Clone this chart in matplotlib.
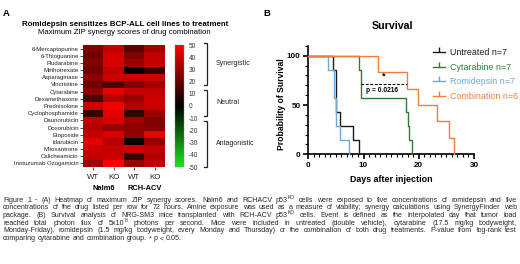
import matplotlib
matplotlib.use("Agg")
import matplotlib.pyplot as plt
import numpy as np
from matplotlib.colors import LinearSegmentedColormap
from matplotlib.lines import Line2D
from matplotlib.ticker import MultipleLocator
from matplotlib.transforms import blended_transform_factory

plt.rcParams['font.family'] = ['Liberation Sans', 'DejaVu Sans']
plt.rcParams['axes.unicode_minus'] = False

# ---------------- data ----------------
drugs = ["6-Mercaptopurine", "6-Thioguanine", "Fludarabine", "Methotrexate",
         "Asparaginase", "Vincristine", "Cytarabine", "Dexamethasone",
         "Prednisolone", "Cyclophosphamide", "Daunorubicin", "Doxorubicin",
         "Etoposide", "Idarubicin", "Mitoxantrone", "Calicheamicin",
         "Inotuzumab Ozogamicin"]
col_labels = ["WT", "KO", "WT", "KO"]
cell_lines = ["Nalm6", "RCH-ACV"]
nalm6_wt = [25, 22, 25, 22, 28, 22, 28, 15, 40, 12, 38, 35, 38, 45, 40, 38, 32]
nalm6_ko = [38, 42, 42, 38, 40, 15, 45, 35, 48, 45, 42, 30, 42, 35, 38, 40, 52]
rch_wt = [18, 25, 30, 0, 40, 25, 38, 30, 35, 10, 32, 28, 28, 2, 40, 12, 30]
rch_ko = [32, 38, 38, 10, 40, 32, 38, 40, 40, 30, 25, 25, 45, 28, 38, 35, 38]
cbar_ticks = [50, 40, 30, 20, 10, 0, -10, -20, -30, -40, -50]
categories_zip = ["Synergistic", "Neutral", "Antagonistic"]
category_ranges = [(52, 17), (13, -8), (-12, -50)]

groups = ["Untreated n=7", "Cytarabine n=7", "Romidepsin n=7", "Combination n=6"]
group_n = [7, 7, 7, 6]
untreated_events = [4.5, 5.0, 5.0, 5.0, 5.75, 8.15, 9.2]
cytarabine_events = [9.2, 9.55, 9.55, 17.7, 18.0, 18.3, 18.7]
romidepsin_events = [3.6, 4.6, 4.6, 5.0, 5.0, 5.7, 7.4]
combination_events = [12.7, 17.9, 19.9, 23.3, 25.4, 26.4]
group_colors = ["#1a1a1a", "#2e7b32", "#6fa8dc", "#f47c3c"]
p_value_text = "p = 0.0216"
p_line_x = [9.6, 17.8]
p_line_y = 71.4

# "^{...}" marks a superscript inside a word
caption_lines = [
    "Figure 1 - (A) Heatmap of maximum ZIP synergy scores. Nalm6 and RCHACV p53^{KO} cells were exposed to five concentrations of romidepsin and five",
    "concentrations of the drug listed per row for 72 hours. Amine exposure was used as a measure of viability; synergy calculations using SynergyFinder web",
    "package. (B) Survival analysis of NRG-SM3 mice transplanted with RCH-ACV p53^{KO} cells. Event is defined as the interpolated day that tumor load",
    "reached total photon flux of 5x10^{8} photons per second. Mice were included in untreated (double vehicle), cytarabine (17.5 mg/kg bodyweight,",
    "Monday-Friday), romidepsin (1.5 mg/kg bodyweight, every Monday and Thursday) or the combination of both drug treatments. P-value from log-rank test",
    "comparing cytarabine and combination group. * p < 0.05.",
]

# ---------------- figure ----------------
W, H = 520, 264
fig = plt.figure(figsize=(W / 100, H / 100), dpi=100)


def fx(px):
    return px / W


def fy(py):
    return 1 - py / H


# Panel letters
fig.text(fx(3), fy(13), "A", fontsize=6.8, fontweight="bold", va="center")
fig.text(fx(263), fy(13), "B", fontsize=6.8, fontweight="bold", va="center")

# ---- Panel A heatmap ----
fig.text(fx(125), fy(24), "Romidepsin sensitizes BCP-ALL cell lines to treatment",
         fontsize=5.7, fontweight="bold", ha="center", va="center")
fig.text(fx(124), fy(33), "Maximum ZIP synergy scores of drug combination",
         fontsize=5.55, ha="center", va="center")

cmap = LinearSegmentedColormap.from_list(
    "gkr", [(0.0, (0.1, 0.9, 0.1)), (0.5, (0.0, 0.0, 0.0)), (1.0, (1.0, 0.0, 0.0))])
data = np.array([nalm6_wt, nalm6_ko, rch_wt, rch_ko]).T

axh = fig.add_axes([fx(83), fy(167), fx(165) - fx(83), fy(45) - fy(167)])
im = axh.imshow(data, cmap=cmap, vmin=-50, vmax=50, aspect="auto", interpolation="nearest")
axh.set_yticks(range(len(drugs)))
axh.set_yticklabels(drugs, fontsize=4.35, color="#222222")
axh.set_xticks(range(4))
axh.set_xticklabels(col_labels, fontsize=5.7, color="#222222")
axh.tick_params(axis="y", length=2, width=0.5, pad=1)
axh.tick_params(axis="x", length=2, width=0.5, pad=3)
for s in axh.spines.values():
    s.set_visible(False)
for i, name in enumerate(cell_lines):
    axh.text(0.5 + 2 * i, -0.18, name, transform=axh.get_xaxis_transform(),
             fontsize=5.4, fontweight="bold", ha="center", va="center")

# colorbar
axc = fig.add_axes([fx(175), fy(167), fx(184) - fx(175), fy(45) - fy(167)])
cb = fig.colorbar(im, cax=axc, ticks=cbar_ticks)
cb.outline.set_linewidth(0.3)
cb.outline.set_edgecolor("#888888")
axc.tick_params(length=0, pad=3.5, labelsize=4.7, colors="#333333")

# category brackets (in colorbar data coords)
trb = blended_transform_factory(fig.transFigure, axc.transData)
bx = fx(207)
tip = fx(3)
for name, (top, bot) in zip(categories_zip, category_ranges):
    axc.plot([bx - tip, bx, bx, bx - tip], [top, top, bot, bot], transform=trb,
             color="#222222", lw=0.9, clip_on=False, solid_joinstyle="miter")
    axc.text(fx(216), (top + bot) / 2, name, transform=trb, fontsize=5.0,
             va="center", ha="left", color="#222222")

# ---- Panel B survival ----
axs = fig.add_axes([fx(308.3), fy(154.3), fx(474) - fx(308.3), (110 * 0.986) / H])
event_lists = [untreated_events, cytarabine_events, romidepsin_events, combination_events]
for name, n, ev, c in zip(groups, group_n, event_lists, group_colors):
    xs = [0] + list(ev)
    ys = [100] + [100 * (n - k - 1) / n for k in range(len(ev))]
    axs.step(xs, ys, where="post", color=c, lw=1.0, clip_on=False, zorder=3)
axs.plot(p_line_x, [p_line_y, p_line_y], color="black", lw=0.8, ls=(0, (2.5, 1.5)), zorder=4)
axs.text(np.mean(p_line_x), p_line_y + 3, "*", fontsize=6.5, fontweight="bold",
         ha="center", va="bottom")
axs.text(np.mean(p_line_x) - 0.3, p_line_y - 3, p_value_text, fontsize=4.8,
         fontweight="bold", ha="center", va="top")
axs.set_xlim(0, 30)
axs.set_ylim(0, 110)
axs.set_xticks([0, 10, 20, 30])
axs.set_yticks([0, 50, 100])
axs.xaxis.set_minor_locator(MultipleLocator(1))
axs.yaxis.set_minor_locator(MultipleLocator(10))
axs.spines["top"].set_visible(False)
axs.spines["right"].set_visible(False)
for s in ["left", "bottom"]:
    axs.spines[s].set_linewidth(1.2)
axs.tick_params(which="major", length=3.5, width=1.2, labelsize=5.8, pad=2)
axs.tick_params(which="minor", length=2, width=0.8)
for lab in axs.get_xticklabels() + axs.get_yticklabels():
    lab.set_fontweight("bold")
fig.text(fx(392), fy(26), "Survival", fontsize=7.7, fontweight="bold", ha="center", va="center")
fig.text(fx(391.5), fy(180), "Days after injection", fontsize=6.4, fontweight="bold",
         ha="center", va="center")
fig.text(fx(281), fy(104), "Probability of Survival", fontsize=6.2, fontweight="bold",
         ha="center", va="center", rotation=90)

handles = [Line2D([0], [0], color=c, lw=1.0, marker=2, markersize=3.5, markeredgewidth=1.0)
           for c in group_colors]
leg = fig.legend(handles, groups, loc="upper left", bbox_to_anchor=(fx(429), fy(44)),
                 frameon=False, fontsize=6.4, handlelength=1.3, handletextpad=0.6,
                 labelspacing=0.62, borderpad=0, labelcolor=group_colors)

# ---- caption (justified) ----
fig.canvas.draw()
renderer = fig.canvas.get_renderer()
left, right = fx(3), fx(517)
line_base = [201.5, 209.3, 217.0, 224.7, 232.4, 240.2]
cap_fs = 5.15
sup_fs = 3.6
sup_rise = 2.6 / H
cap_color = "#262626"


def width_of(t):
    return t.get_window_extent(renderer).width / W


sp_a = fig.text(0, 0, "a a", fontsize=cap_fs)
sp_b = fig.text(0, 0, "aa", fontsize=cap_fs)
space_w = width_of(sp_a) - width_of(sp_b)
sp_a.remove()
sp_b.remove()

for i, line in enumerate(caption_lines):
    y = fy(line_base[i])
    words = line.split(" ")
    word_parts = []  # list of list of (text_artist, is_sup)
    word_widths = []
    for w in words:
        parts = []
        if "^{" in w:
            base, rest = w.split("^{", 1)
            sup, tail = rest.split("}", 1)
            segs = [(base, False), (sup, True)]
            if tail:
                segs.append((tail, False))
        else:
            segs = [(w, False)]
        for s, is_sup in segs:
            t = fig.text(0, y + (sup_rise if is_sup else 0), s,
                         fontsize=sup_fs if is_sup else cap_fs,
                         va="baseline", ha="left", color=cap_color)
            parts.append((t, width_of(t)))
        word_parts.append(parts)
        word_widths.append(sum(p[1] for p in parts))
    if i < len(caption_lines) - 1:
        gap = (right - left - sum(word_widths)) / (len(words) - 1)
    else:
        gap = space_w
    x = left
    for parts, ww in zip(word_parts, word_widths):
        xx = x
        for t, pw in parts:
            t.set_x(xx)
            xx += pw
        x += ww + gap

fig.savefig("out.png", dpi=100)
